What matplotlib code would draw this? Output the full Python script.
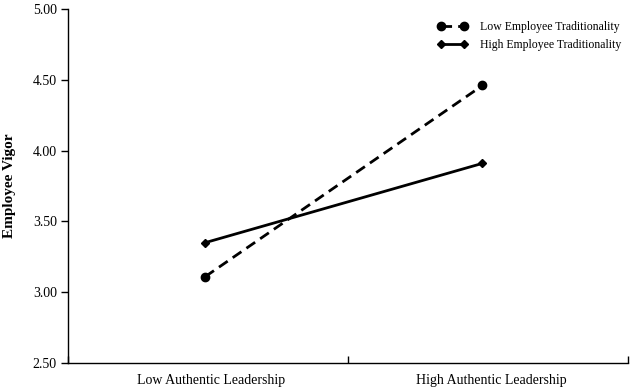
import matplotlib
matplotlib.use("Agg")
import matplotlib.pyplot as plt

plt.rcParams['font.family'] = ['Liberation Serif', 'DejaVu Serif']

categories = ['Low Authentic Leadership', 'High Authentic Leadership']
low_trad = [3.11, 4.46]
high_trad = [3.35, 3.91]
y_ticks = [2.50, 3.00, 3.50, 4.00, 4.50, 5.00]

fig = plt.figure(figsize=(6.3, 3.92), dpi=100)
ax = fig.add_axes([0.108, 0.074, 0.889, 0.903])

x = [0.49, 1.48]
ax.plot(x, low_trad, color='black', lw=2, ls=(0, (3.8, 2.2)), marker='o',
        ms=6, label='Low Employee Traditionality')
ax.plot(x, high_trad, color='black', lw=2, marker='D', ms=4,
        label='High Employee Traditionality')

ax.set_xlim(0, 2)
ax.set_ylim(2.5, 5.0)
ax.set_yticks(y_ticks)
ax.set_yticklabels(['%.2f' % v for v in y_ticks], fontsize=10)
ax.set_xticks([0, 1, 2])
ax.set_xticklabels([])
ax.set_xticks([0.51, 1.51], minor=True)
ax.set_xticklabels(categories, minor=True, fontsize=10)
ax.tick_params(axis='x', which='minor', length=0, pad=8)
ax.tick_params(axis='x', which='major', length=5, direction='in', width=1)
ax.tick_params(axis='y', length=5, width=1, pad=3)

for s in ['top', 'right']:
    ax.spines[s].set_visible(False)
for s in ['left', 'bottom']:
    ax.spines[s].set_linewidth(1)

ax.set_ylabel('Employee Vigor', fontsize=11, fontweight='bold', labelpad=12)

ax.legend(loc='upper right', bbox_to_anchor=(1.0, 0.985), frameon=False,
          fontsize=8.5, handlelength=2.6, numpoints=2, labelspacing=0.45,
          handletextpad=1.0, borderaxespad=0.2)

fig.savefig('out.png', dpi=100)
